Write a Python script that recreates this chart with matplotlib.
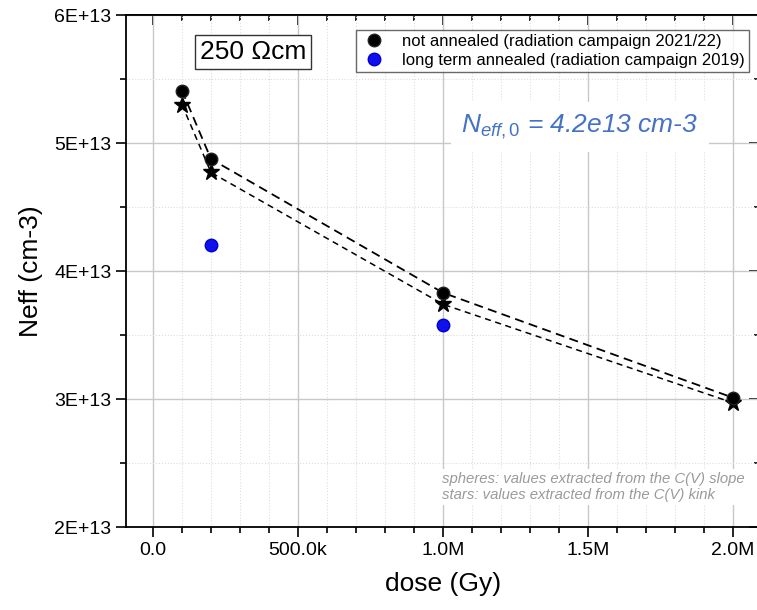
import matplotlib.pyplot as plt
from matplotlib.ticker import MultipleLocator, FuncFormatter

plt.rcParams['font.family'] = ['Liberation Sans', 'DejaVu Sans']
plt.rcParams['mathtext.fontset'] = 'custom'
plt.rcParams['mathtext.it'] = 'Liberation Sans:italic'
plt.rcParams['mathtext.rm'] = 'Liberation Sans'

# dose (Gy)
dose = [100e3, 200e3, 1.0e6, 2.0e6]
# Neff from C(V) slope (spheres) and from C(V) kink (stars)
neff_slope = [5.41e13, 4.875e13, 3.83e13, 3.01e13]
neff_kink = [5.30e13, 4.77e13, 3.74e13, 2.97e13]
# long term annealed, campaign 2019
dose_2019 = [200e3, 1.0e6]
neff_2019 = [4.20e13, 3.58e13]

fig = plt.figure(figsize=(7.57, 6.10), dpi=100)
ax = fig.add_axes([126/757, 83/610, 634/757, 512/610])

ax.plot(dose, neff_slope, ls=(0, (5, 3)), color='black', lw=1.3, zorder=3)
ax.plot(dose, neff_kink, ls=(0, (4, 3)), color='black', lw=1.1, zorder=3)
ax.plot(dose, neff_kink, ls='none', marker='*', ms=12, color='black', zorder=4)
ax.plot(dose, neff_slope, ls='none', marker='o', ms=9, color='black',
        mec='#222222', label='not annealed (radiation campaign 2021/22)', zorder=5)
ax.plot(dose_2019, neff_2019, ls='none', marker='o', ms=9, color='#1010ee',
        mec='#0000cc', label='long term annealed (radiation campaign 2019)', zorder=5)

ax.set_xlim(-0.093e6, 2.093e6)
ax.set_ylim(2e13, 6e13)

ax.xaxis.set_major_locator(MultipleLocator(0.5e6))
ax.xaxis.set_minor_locator(MultipleLocator(0.1e6))
ax.yaxis.set_major_locator(MultipleLocator(1e13))
ax.yaxis.set_minor_locator(MultipleLocator(0.5e13))


def xfmt(v, pos):
    if abs(v) < 1:
        return '0.0'
    if v < 1e6:
        return '%.1fk' % (v / 1e3)
    return '%.1fM' % (v / 1e6)


ax.xaxis.set_major_formatter(FuncFormatter(xfmt))
ax.yaxis.set_major_formatter(FuncFormatter(lambda v, p: '%dE+13' % round(v / 1e13)))

ax.grid(True, which='major', color='#c8c8c8', lw=1.0, zorder=0)
ax.grid(True, which='minor', color='#dddddd', lw=0.8, ls=':', zorder=0)
ax.set_axisbelow(True)

ax.tick_params(which='both', labelsize=14, width=1.2, direction='out')
ax.tick_params(which='major', length=7)
ax.tick_params(which='minor', length=4)
for s in ax.spines.values():
    s.set_linewidth(1.3)

# top and right ticks point inwards
top = ax.secondary_xaxis('top')
top.xaxis.set_major_locator(MultipleLocator(0.5e6))
top.xaxis.set_minor_locator(MultipleLocator(0.1e6))
top.tick_params(which='both', direction='in', labeltop=False, width=1.2)
top.tick_params(which='major', length=7)
top.tick_params(which='minor', length=4)
top.spines['top'].set_linewidth(1.3)

right = ax.secondary_yaxis('right')
right.yaxis.set_major_locator(MultipleLocator(1e13))
right.yaxis.set_minor_locator(MultipleLocator(0.5e13))
right.tick_params(which='both', direction='in', labelright=False, width=1.2)
right.tick_params(which='major', length=8)
right.tick_params(which='minor', length=4)

ax.set_xlabel('dose (Gy)', fontsize=19, labelpad=10)
ax.set_ylabel('Neff (cm-3)', fontsize=19, labelpad=8)

leg = ax.legend(loc='upper left', bbox_to_anchor=(356/757, 1 - 30/610),
                bbox_transform=fig.transFigure, fontsize=12, frameon=True,
                fancybox=False, edgecolor='#444444', handletextpad=0.9,
                borderpad=0.25, labelspacing=0.2, handlelength=1.6,
                borderaxespad=0)
leg.get_frame().set_linewidth(1.0)

fig.text(253/757, 1 - 52/610, '250 \u03a9cm', fontsize=19, ha='center', va='center',
         bbox=dict(boxstyle='square,pad=0.2', fc='white', ec='#333333', lw=1.0))

fig.text(580/757, 1 - 127/610, r'$N_{eff,0}$ = 4.2e13 cm-3', fontsize=19,
         style='italic', color='#4472c4', ha='center', va='center',
         bbox=dict(boxstyle='square,pad=0.4', fc='white', ec='none'))

fig.text(745/757, 1 - 487/610,
         'spheres: values extracted from the C(V) slope\nstars: values extracted from the C(V) kink',
         fontsize=10.7, style='italic', color='#9a9a9a', ha='right', va='center',
         linespacing=1.25, multialignment='left',
         bbox=dict(boxstyle='square,pad=0.2', fc='white', ec='none'))

fig.savefig('out.png', dpi=100)
